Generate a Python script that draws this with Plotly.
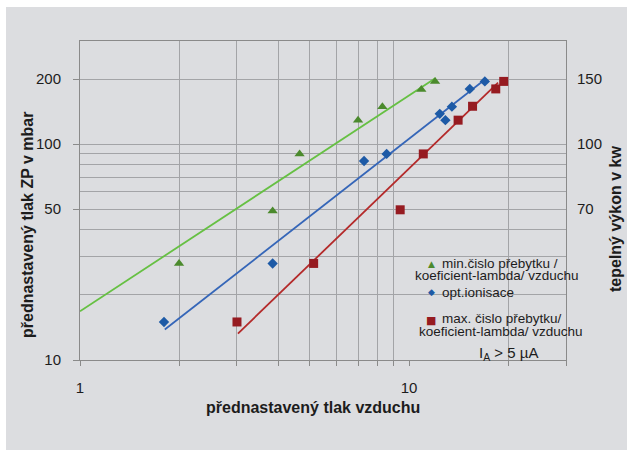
import numpy as np
import plotly.graph_objects as go

# ---------------- data ----------------
series_names = ["min.čislo přebytku / koeficient-lambda/ vzduchu",
                "opt.ionisace",
                "max. čislo přebytku/ koeficient-lambda/ vzduchu"]

green_x = [2.0, 3.85, 4.65, 7.0, 8.3, 10.9, 12.0]
green_y = [28, 49, 90, 129, 149, 179, 195]

blue_x = [1.8, 3.85, 7.3, 8.55, 12.4, 12.9, 13.5, 15.3, 17.0]
blue_y = [15, 28, 83.5, 90, 138, 129, 149, 180, 195]

red_x = [3.0, 5.13, 9.4, 11.05, 14.1, 15.6, 18.35, 19.4]
red_y = [15, 28, 49.6, 90, 129, 149.6, 180, 195]

# power-law trend lines  y = coef * x^exp
trend_coef = [16.8, 6.84, 2.61]
trend_exp = [1.0, 1.189, 1.47]
trend_x_start = [1.0, 1.81, 3.02]
trend_x_end = [12.05, 16.9, 18.65]

x_ticks = [1, 10]
x_grid = [2, 3, 4, 5, 6, 7, 8, 9, 20, 30]
y_ticks = [10, 50, 100, 200]
y_grid = [20, 30, 40, 60, 70, 80, 90]
y2_tickvals = [200, 100, 50]
y2_ticktext = ["150", "100", "70"]

# ---------------- style ----------------
W, H = 627, 450
ML, MR, MT, MB = 80, 61, 41, 90
PW, PH = W - ML - MR, H - MT - MB
BG = "#dcdde0"
GRID = "#a3a4a7"
FONT = "Liberation Sans, Arial, sans-serif"
TXT = "#1c1c1c"

line_colors = ["#66c043", "#3566b8", "#b42a2a"]
marker_colors = ["#4b8a2d", "#1d5aa6", "#961b21"]
marker_symbols = ["triangle-up", "diamond", "square"]
marker_sizes = [9, 8, 9]


def px(xp):
    return (xp - ML) / PW


def py(yp):
    return (H - MB - yp) / PH


fig = go.Figure()

sx = [green_x, blue_x, red_x]
sy = [green_y, blue_y, red_y]
for i in range(3):
    xs = np.array([trend_x_start[i], trend_x_end[i]])
    ys = trend_coef[i] * xs ** trend_exp[i]
    fig.add_trace(go.Scatter(x=xs, y=ys, mode="lines",
                             line=dict(color=line_colors[i], width=1.8),
                             showlegend=False, hoverinfo="skip"))
for i in range(3):
    fig.add_trace(go.Scatter(x=sx[i], y=sy[i], mode="markers", name=series_names[i],
                             marker=dict(symbol=marker_symbols[i], size=marker_sizes[i],
                                         color=marker_colors[i], line=dict(width=0)),
                             showlegend=False))

# invisible trace to activate the right axis
fig.add_trace(go.Scatter(x=[1], y=[10], yaxis="y2", mode="markers",
                         marker=dict(opacity=0), showlegend=False, hoverinfo="skip"))

fig.update_layout(
    width=W, height=H,
    margin=dict(l=ML, r=MR, t=MT, b=MB, pad=0),
    paper_bgcolor=BG, plot_bgcolor=BG,
    font=dict(family=FONT, size=15, color=TXT),
    xaxis=dict(type="log", range=[0, np.log10(30)],
               tickmode="array", tickvals=x_ticks, ticktext=[str(v) for v in x_ticks],
               showgrid=False, zeroline=False,
               showline=True, linecolor="#8a8a8a", linewidth=1, mirror=True,
               ticks="outside", ticklen=5, tickcolor="#8a8a8a",
               ticklabelstandoff=9,
               minor=dict(tickmode="array", tickvals=x_grid, showgrid=True,
                          gridcolor=GRID, gridwidth=1, ticks="outside", ticklen=5,
                          tickcolor="#8a8a8a")),
    yaxis=dict(type="log", range=[1, np.log10(300)],
               tickmode="array", tickvals=y_ticks, ticktext=[str(v) for v in y_ticks],
               showgrid=True, gridcolor=GRID, gridwidth=1, zeroline=False,
               showline=True, linecolor="#8a8a8a", linewidth=1, mirror=True,
               ticks="outside", ticklen=6, tickcolor="#8a8a8a",
               ticklabelstandoff=9,
               minor=dict(tickmode="array", tickvals=y_grid, showgrid=True,
                          gridcolor=GRID, gridwidth=1, ticks="")),
    yaxis2=dict(type="log", range=[1, np.log10(300)], overlaying="y", side="right",
                tickmode="array", tickvals=y2_tickvals, ticktext=y2_ticktext,
                showgrid=False, zeroline=False, showline=False, ticks="",
                ticklabelstandoff=10),
)

# page border (white strips at left and top)
fig.add_shape(type="rect", xref="paper", yref="paper", layer="below",
              x0=px(-40), x1=px(6), y0=py(500), y1=py(-40),
              fillcolor="white", line=dict(width=0))
fig.add_shape(type="rect", xref="paper", yref="paper", layer="below",
              x0=px(-40), x1=px(700), y0=py(7), y1=py(-40),
              fillcolor="white", line=dict(width=0))
# legend box (hides gridlines)
fig.add_shape(type="rect", xref="paper", yref="paper", layer="between",
              x0=px(420), x1=px(557), y0=py(348), y1=py(257),
              fillcolor=BG, line=dict(width=0))

ann = []


def add_text(text, xp, yp, size=13.5, color=TXT, xanchor="center", bold=False, family=FONT):
    if bold:
        text = "<b>" + text + "</b>"
    ann.append(dict(text=text, x=px(xp), y=py(yp), xref="paper", yref="paper",
                    xanchor=xanchor, yanchor="middle", showarrow=False,
                    font=dict(family=family, size=size, color=color)))


# axis titles
add_text("přednastavený tlak vzduchu", 313, 408, size=16, bold=True)
ann.append(dict(text="<b>přednastavený tlak ZP v mbar</b>", x=px(27), y=py(225),
                xref="paper", yref="paper", xanchor="center", yanchor="middle",
                textangle=-90, showarrow=False, font=dict(family=FONT, size=16, color=TXT)))
ann.append(dict(text="<b>tepelný výkon v kw</b>", x=px(615), y=py(219),
                xref="paper", yref="paper", xanchor="center", yanchor="middle",
                textangle=-90, showarrow=False, font=dict(family=FONT, size=16, color=TXT)))

# legend
SYMF = "DejaVu Sans, sans-serif"
add_text("▲", 431, 264, size=9, color=marker_colors[0], family=SYMF)
add_text("min.čislo přebytku /", 440, 263, xanchor="left")
add_text("koeficient-lambda/ vzduchu", 496.5, 275)
add_text("◆", 431, 292, size=9, color=marker_colors[1], family=SYMF)
add_text("opt.ionisace", 440, 292, xanchor="left")
add_text("■", 431, 320, size=11, color=marker_colors[2], family=SYMF)
add_text("max. čislo přebytku/", 440, 318, xanchor="left")
add_text("koeficient-lambda/ vzduchu", 500.5, 331.5)
add_text("I<sub>A</sub> &gt; 5 µA", 508, 353, size=15)

fig.update_layout(annotations=ann)

fig.write_html("out.html",
               config={"displayModeBar": False},
               post_script="document.body.style.margin='0';document.body.style.padding='0';"
                           "window.dispatchEvent(new Event('resize'));")
